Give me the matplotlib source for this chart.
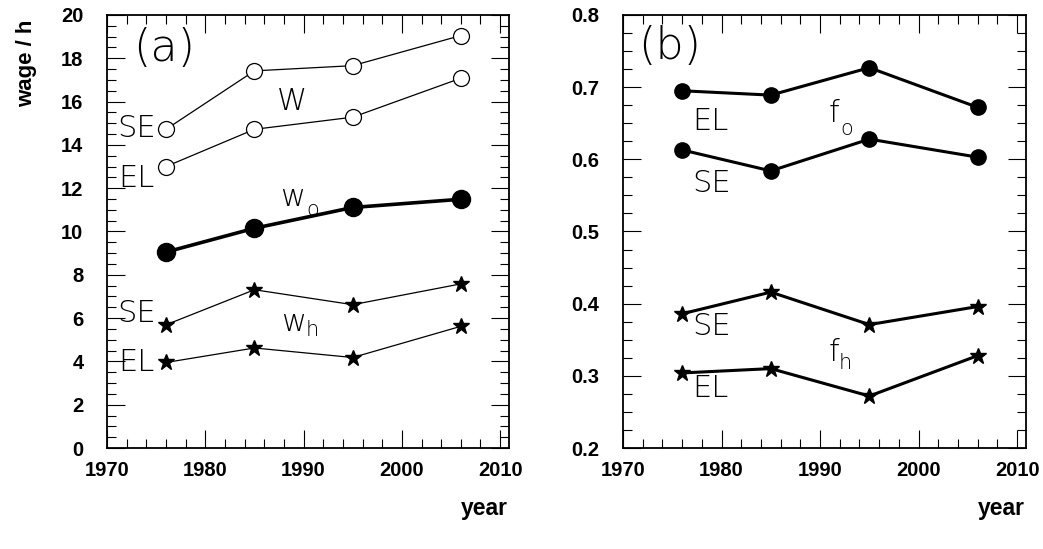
import matplotlib
matplotlib.use("Agg")
import matplotlib.pyplot as plt
from matplotlib.ticker import MultipleLocator, FormatStrFormatter

years = [1976, 1985, 1995, 2006]

# panel (a): wage per hour
W_SE = [14.72, 17.42, 17.66, 19.05]
W_EL = [13.0, 14.72, 15.28, 17.08]
w_o = [9.05, 10.15, 11.11, 11.49]
wh_SE = [5.69, 7.31, 6.62, 7.58]
wh_EL = [3.95, 4.62, 4.18, 5.62]

# panel (b): fractions
fo_EL = [0.695, 0.689, 0.727, 0.672]
fo_SE = [0.613, 0.584, 0.628, 0.603]
fh_SE = [0.386, 0.416, 0.371, 0.396]
fh_EL = [0.304, 0.310, 0.272, 0.328]

bold = "Liberation Sans"
thin = "DejaVu Sans"

fig = plt.figure(figsize=(10.43, 5.49), dpi=100)
axa = fig.add_axes([107/1043, 101/549, 402/1043, 433/549])
axb = fig.add_axes([623/1043, 101/549, 403/1043, 433/549])


def style(ax, ymaj, ymin):
    ax.set_xlim(1970, 2010.9)
    ax.xaxis.set_major_locator(MultipleLocator(10))
    ax.xaxis.set_minor_locator(MultipleLocator(2))
    ax.yaxis.set_major_locator(MultipleLocator(ymaj))
    ax.yaxis.set_minor_locator(MultipleLocator(ymin))
    ax.tick_params(which="both", direction="in", top=True, right=True, width=0.8)
    ax.tick_params(which="major", length=13)
    ax.tick_params(which="minor", length=6.5)
    ax.tick_params(axis="y", pad=17)
    ax.tick_params(axis="x", pad=9)
    for s in ax.spines.values():
        s.set_linewidth(1.3)


def bold_ticks(ax):
    for lab in ax.get_xticklabels() + ax.get_yticklabels():
        lab.set_fontfamily(bold)
        lab.set_fontweight("bold")
        lab.set_fontsize(14.5)


# panel (a)
axa.plot(years, W_SE, color="black", lw=0.9, marker="o", ms=11.5, mfc="white", mec="black", mew=0.9)
axa.plot(years, W_EL, color="black", lw=0.9, marker="o", ms=11.5, mfc="white", mec="black", mew=0.9)
axa.plot(years, w_o, color="black", lw=2.6, marker="o", ms=13, mfc="black", mec="black")
axa.plot(years, wh_SE, color="black", lw=0.9, marker="*", ms=12, mfc="black", mec="black")
axa.plot(years, wh_EL, color="black", lw=0.9, marker="*", ms=12, mfc="black", mec="black")
axa.set_ylim(0, 20)
style(axa, 2, 0.5)
bold_ticks(axa)

tkw = dict(family=thin, fontweight="light", ha="center", va="center")
axa.text(1975.8, 18.45, "(a)", fontsize=32, **tkw)
axa.text(1973.0, 14.78, "SE", fontsize=22, **tkw)
axa.text(1973.0, 12.47, "EL", fontsize=22, **tkw)
axa.text(1988.8, 16.0, "W", fontsize=22, **tkw)
axa.text(1988.9, 11.56, "w", fontsize=22, **tkw)
axa.text(1990.9, 11.0, "o", fontsize=15, **tkw)
axa.text(1973.0, 6.19, "SE", fontsize=22, **tkw)
axa.text(1989.0, 5.8, "w", fontsize=22, **tkw)
axa.text(1990.9, 5.45, "h", fontsize=15, **tkw)
axa.text(1973.0, 3.93, "EL", fontsize=22, **tkw)

# panel (b)
axb.plot(years, fo_EL, color="black", lw=2.2, marker="o", ms=11, mfc="black", mec="black")
axb.plot(years, fo_SE, color="black", lw=2.2, marker="o", ms=11, mfc="black", mec="black")
axb.plot(years, fh_SE, color="black", lw=2.2, marker="*", ms=12, mfc="black", mec="black")
axb.plot(years, fh_EL, color="black", lw=2.2, marker="*", ms=12, mfc="black", mec="black")
axb.set_ylim(0.2, 0.8)
style(axb, 0.1, 0.025)
axb.yaxis.set_major_formatter(FormatStrFormatter("%.1f"))
bold_ticks(axb)

axb.text(1974.7, 0.756, "(b)", fontsize=32, **tkw)
axb.text(1978.85, 0.652, "EL", fontsize=22, **tkw)
axb.text(1991.4, 0.664, "f", fontsize=22, **tkw)
axb.text(1992.7, 0.642, "o", fontsize=15, **tkw)
axb.text(1978.95, 0.567, "SE", fontsize=22, **tkw)
axb.text(1978.95, 0.368, "SE", fontsize=22, **tkw)
axb.text(1991.4, 0.333, "f", fontsize=22, **tkw)
axb.text(1992.6, 0.318, "h", fontsize=15, **tkw)
axb.text(1978.85, 0.283, "EL", fontsize=22, **tkw)

# axis titles
fig.text(27/1043, 1 - 20/549, "wage / h", rotation=90, ha="center", va="top",
         family=bold, fontweight="bold", fontsize=16)
fig.text(508/1043, 1 - 508/549, "year", ha="right", va="center",
         family=bold, fontweight="bold", fontsize=16.5)
fig.text(1025/1043, 1 - 508/549, "year", ha="right", va="center",
         family=bold, fontweight="bold", fontsize=16.5)

fig.savefig("out.png", dpi=100)
